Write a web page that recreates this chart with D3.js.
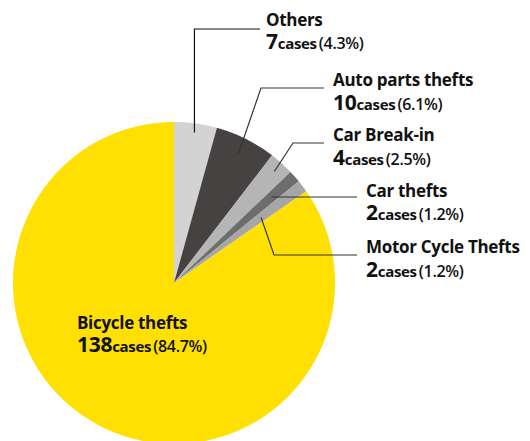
<!DOCTYPE html>
<html>
<head>
<meta charset="utf-8">
<script src="https://cdn.jsdelivr.net/npm/d3@7"></script>
<style>
  body { margin: 0; background: #fff; }
  text { font-family: "Open Sans", "Noto Sans", sans-serif; fill: #111; }
</style>
</head>
<body>
<div id="chart-area"></div>
<script>
// data
var categories = ["Others", "Auto parts thefts", "Car Break-in", "Car thefts", "Motor Cycle Thefts", "Bicycle thefts"];
var cases = [7, 10, 4, 2, 2, 138];
var percents = ["4.3%", "6.1%", "2.5%", "1.2%", "1.2%", "84.7%"];
var colors = ["#d3d3d3", "#464242", "#b5b5b5", "#6d6d6d", "#a6a6a6", "#ffe000"];

// layout of labels and leader lines
var labelPos = [[266, 26], [333, 86], [333, 141], [366, 197], [366, 253], [77, 329]];
var lineGap = [23, 24, 24, 23, 24, 23];
var leaderRadius = [152, 144, 150, 130, 109, null];
var elbows = [[null, 29], [261, 88], [293, 143], null, [274, 255], null];
var lineEndX = [260, 324, 324, 357, 357, null];

var width = 530;
var height = 441;
var cx = 174, cy = 283, radius = 161;

var svg = d3
  .select("#chart-area")
  .append("svg")
  .attr("width", width)
  .attr("height", height);

var pie = d3.pie().sort(null).value((d) => d.value);
var arc = d3.arc().innerRadius(0).outerRadius(radius);

var data = categories.map((c, i) => ({ name: c, value: cases[i], pct: percents[i], i: i }));
var arcs = pie(data);

var g = svg.append("g").attr("transform", `translate(${cx}, ${cy})`);

// slices
g.selectAll(".slice")
  .data(arcs)
  .join("path")
  .attr("class", "slice")
  .attr("fill", (d) => colors[d.data.i])
  .attr("d", arc);

// leader lines
arcs.forEach(function (d, i) {
  if (leaderRadius[i] == null) return;
  var a = (d.startAngle + d.endAngle) / 2;
  var sx = cx + leaderRadius[i] * Math.sin(a);
  var sy = cy - leaderRadius[i] * Math.cos(a);
  var pts = [[sx, sy]];
  if (elbows[i]) {
    var ex = elbows[i][0] == null ? sx : elbows[i][0];
    pts.push([ex, elbows[i][1]]);
    pts.push([lineEndX[i], elbows[i][1]]);
  } else {
    pts.push([lineEndX[i], sy]);
  }
  svg.append("path")
    .attr("d", d3.line()(pts))
    .attr("fill", "none")
    .attr("stroke", i == 0 ? "#111" : "#333")
    .attr("stroke-width", 1.2);
});

// labels (name on first line, count + percent on second)
data.forEach(function (d, i) {
  var t = svg.append("text")
    .attr("x", labelPos[i][0])
    .attr("y", labelPos[i][1])
    .attr("letter-spacing", -0.3);
  t.append("tspan")
    .attr("font-size", 17)
    .attr("font-weight", 700)
    .text(d.name);
  t.append("tspan")
    .attr("x", labelPos[i][0])
    .attr("dy", lineGap[i])
    .attr("font-size", 21)
    .attr("font-weight", 700)
    .text(d.value);
  t.append("tspan")
    .attr("font-size", 15)
    .attr("font-weight", 700)
    .text("cases");
  t.append("tspan")
    .attr("font-size", 16)
    .attr("font-weight", 600)
    .attr("dx", 2)
    .text("(" + d.pct + ")");
});
</script>
</body>
</html>
